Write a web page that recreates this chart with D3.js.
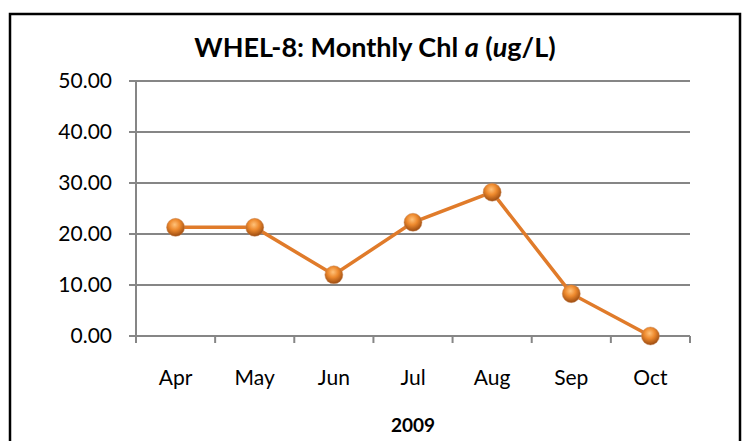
<!DOCTYPE html>
<html><head><meta charset="utf-8">
<script src="https://cdn.jsdelivr.net/npm/d3@7"></script>
<style>body{margin:0;background:#fff}svg{display:block}</style>
</head><body>
<svg id="c" width="746" height="441"></svg>
<script>
const months = ["Apr","May","Jun","Jul","Aug","Sep","Oct"];
const chlValues = [21.3, 21.3, 12.0, 22.3, 28.2, 8.3, 0.0];
const yTicks = [0, 10, 20, 30, 40, 50];
const titleText = "WHEL-8: Monthly Chl ";
const xTitle = "2009";

const svg = d3.select("#c");
const font = "Lato, 'Open Sans', sans-serif";
const L = 136, R = 690, T = 81, B = 336;

svg.append("rect").attr("x",10).attr("y",14).attr("width",730).attr("height",440)
  .attr("fill","#fff").attr("stroke","#000").attr("stroke-width",2.5);

const defs = svg.append("defs");
const g = defs.append("radialGradient").attr("id","ball").attr("cx","45%").attr("cy","35%").attr("r","65%");
g.append("stop").attr("offset","0%").attr("stop-color","#ffc27a");
g.append("stop").attr("offset","45%").attr("stop-color","#ee8a2e");
g.append("stop").attr("offset","100%").attr("stop-color","#9a4a10");

const x = d3.scaleBand().domain(months).range([L,R]).paddingInner(0).paddingOuter(0);
const y = d3.scaleLinear().domain([0,50]).range([B,T]);

svg.append("g").selectAll("line").data(yTicks).join("line")
  .attr("x1",L-7).attr("x2",R).attr("y1",d=>y(d)).attr("y2",d=>y(d))
  .attr("stroke","#868686").attr("stroke-width",2);

svg.append("line").attr("x1",L).attr("x2",L).attr("y1",T).attr("y2",B+7)
  .attr("stroke","#868686").attr("stroke-width",2);

const xt = months.map((m,i)=>x(m)).concat([R]);
svg.append("g").selectAll("line").data(xt).join("line")
  .attr("x1",d=>d).attr("x2",d=>d).attr("y1",B).attr("y2",B+7)
  .attr("stroke","#868686").attr("stroke-width",2);

svg.append("g").selectAll("text").data(yTicks).join("text")
  .attr("x",112).attr("y",d=>y(d)).attr("dy","0.35em").attr("text-anchor","end")
  .attr("font-family",font).attr("font-size",21).attr("fill","#000")
  .text(d=>d.toFixed(2));

svg.append("g").selectAll("text").data(months).join("text")
  .attr("x",d=>x(d)+x.bandwidth()/2).attr("y",385).attr("text-anchor","middle")
  .attr("font-family",font).attr("font-size",21).attr("fill","#000").text(d=>d);

svg.append("text").attr("x",413).attr("y",432).attr("text-anchor","middle")
  .attr("font-family",font).attr("font-size",19).attr("font-weight","bold").text(xTitle);

const t = svg.append("text").attr("x",375).attr("y",57).attr("text-anchor","middle")
  .attr("font-family",font).attr("font-size",27).attr("font-weight","bold");
t.append("tspan").text(titleText);
t.append("tspan").attr("font-style","italic").text("a");
t.append("tspan").text(" (");
t.append("tspan").attr("font-style","italic").text("u");
t.append("tspan").text("g/L)");

const line = d3.line().x((d,i)=>x(months[i])+x.bandwidth()/2).y(d=>y(d));
svg.append("path").datum(chlValues).attr("d",line).attr("fill","none")
  .attr("stroke","#e07b2a").attr("stroke-width",3.5);

svg.append("g").selectAll("circle").data(chlValues).join("circle")
  .attr("cx",(d,i)=>x(months[i])+x.bandwidth()/2).attr("cy",d=>y(d)).attr("r",9)
  .attr("fill","url(#ball)").attr("stroke","#c98a5a").attr("stroke-width",0.8).attr("stroke-opacity",0.6);
</script>
</body></html>
